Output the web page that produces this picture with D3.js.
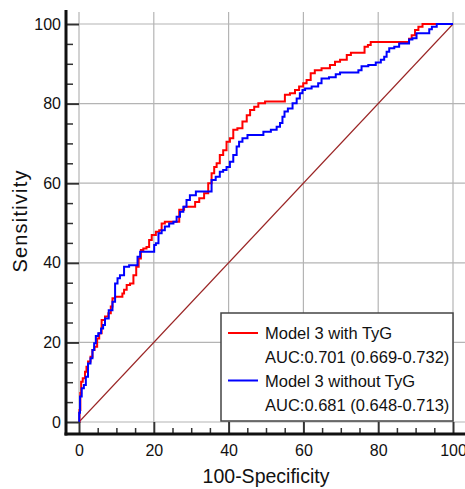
<!DOCTYPE html>
<html>
<head>
  <style>
    body { margin: 0; background: #fff; }
    svg { font-family: "Liberation Sans", Arial, sans-serif; }
    .grid line { stroke: #b4b4b4; stroke-width: 1.2px; }
    .axis text { font-size: 16px; fill: #111; }
    .axis .tick line { stroke: #333; }
    .curve { fill: none; stroke-width: 2px; stroke-linejoin: miter; }
    .legend text { font-size: 16.5px; fill: #111; }
  </style>
</head>
<body>
  <svg id="roc" width="465" height="489"></svg>

  <script src="https://d3js.org/d3.v7.min.js"></script>
  <script>
    // ROC points: [100-Specificity, Sensitivity]
    const withTyG = [
      [0,0],[0.27,3],[0.45,7.3],[0.7,10.1],[1.3,11],[1.9,12.6],[2.1,13.9],[2.75,15.2],[3.4,16.4],[3.8,18.1],
      [4.5,18.9],[5.2,21],[5.6,22.3],[6.5,25.6],[7.4,26.5],[8.3,27.3],[8.7,29],[9.2,31.1],[10.1,31.5],[11.4,31.5],
      [11.8,32.3],[12.3,33.2],[13.2,34.4],[14.1,34.8],[15.0,36.9],[15.6,39],[16.3,41.1],[16.8,43.2],[17.6,43.6],[18.5,44],
      [19,45.7],[19.9,47],[21.2,47.8],[21.7,48.2],[22.5,49.9],[23.4,50.3],[25.7,50.3],[27.9,53.3],[28.3,54.1],[30.6,54.1],
      [31.5,55.3],[32.8,56.2],[34.1,57.5],[35,60],[35.9,62.5],[36.4,64.1],[37.2,65],[38.1,67.1],[39,68.3],[39.9,70.4],
      [40.8,71.3],[41.7,73.4],[43,73.8],[44.4,75.5],[45.3,77.1],[46.2,78.4],[47.5,79.2],[48.4,80.1],[51.1,80.5],[54.6,80.5],
      [55.5,82.2],[57.3,82.6],[58.2,83.4],[59.5,84.3],[60.4,85.1],[61.3,85.9],[62.6,87.6],[63.5,88.4],[66.2,88.9],[68,89.7],
      [68.9,90.5],[70.7,91],[72.5,92.2],[72.9,92.8],[76,92.8],[76.7,94.3],[77.8,94.7],[78.2,95.5],[88,95.5],[88.5,96.3],
      [89.4,97.2],[90.3,98.5],[91.2,99.3],[92.5,100],[100,100]
    ];
    const withoutTyG = [
      [0,0],[0.1,2.3],[0.45,6.4],[1,8.5],[1.6,9.3],[2.06,11.4],[2.75,14.7],[3.4,16],[3.8,18.1],[4.3,19.8],
      [4.7,21.6],[5.6,22.3],[6.2,23.5],[6.7,24.4],[7.2,26],[8.7,28.1],[9.2,30.2],[10.1,34.8],[10.5,36.1],[11.4,36.9],
      [12.7,39],[14.1,39.4],[15.4,39.4],[15.9,41.5],[16.8,42.8],[19.9,42.8],[20.3,44.5],[20.8,44.9],[21.7,47.4],[22.5,48.2],
      [23.4,49.1],[24.8,49.9],[25.7,50.3],[26.5,51.6],[27.5,52.8],[28.3,54.1],[29.2,55.8],[30.1,57],[32.4,57.9],[35,57.9],
      [35.9,60.8],[37.2,61.6],[38.1,62.9],[39,63.3],[39.9,64.1],[40.8,65.4],[41.7,67.1],[42.6,69.2],[43,70.4],[44.4,71.3],
      [45.7,72.1],[48.4,72.1],[50.2,72.9],[52.4,73.4],[53.3,74.2],[54.2,75.1],[54.6,76.7],[55.3,78],[56.4,78.8],[57.8,80.1],
      [58.6,81.3],[59.5,82.6],[60,83.4],[60.9,83.8],[63.5,84.3],[64.4,85.1],[65.3,86.3],[68.4,86.6],[68.9,87.4],[70.7,87.8],
      [74.3,87.8],[75.1,88.4],[76,89.4],[78.7,89.7],[80,90.3],[81.4,91],[81.8,91.8],[82.7,93],[83.2,93.9],[85.4,94.3],
      [85.8,95.1],[88,95.1],[88.5,96.1],[89.8,96.4],[90.7,97.7],[93.4,97.7],[93.9,98.7],[94.8,99.3],[96.5,100],[100,100]
    ];
    const reference = [[0,0],[100,100]];

    const majorTicks = [0, 20, 40, 60, 80, 100];
    const minorTicks = [5, 10, 15, 25, 30, 35, 45, 50, 55, 65, 70, 75, 85, 90, 95];

    const legendItems = [
      { name: "Model 3 with TyG", auc: "AUC:0.701 (0.669-0.732)", color: "#ff0000" },
      { name: "Model 3 without TyG", auc: "AUC:0.681 (0.648-0.713)", color: "#0000ff" }
    ];

    const svg = d3.select("#roc");

    const x = d3.scaleLinear().domain([0, 100]).range([79, 453]);
    const y = d3.scaleLinear().domain([0, 100]).range([422, 24]);

    const xAxisY = 434, yAxisX = 66;

    // grid
    const grid = svg.append("g").attr("class", "grid");
    grid.selectAll(".gx")
        .data(majorTicks)
        .enter()
        .append("line")
        .attr("x1", d => x(d)).attr("x2", d => x(d))
        .attr("y1", y(103)).attr("y2", y(0));
    grid.selectAll(".gy")
        .data(majorTicks)
        .enter()
        .append("line")
        .attr("y1", d => y(d)).attr("y2", d => y(d))
        .attr("x1", x(0)).attr("x2", x(103.2));

    // diagonal reference line
    const line = d3.line().x(d => x(d[0])).y(d => y(d[1]));
    svg.append("path")
       .attr("d", line(reference))
       .attr("fill", "none")
       .attr("stroke", "#9a2424")
       .attr("stroke-width", 1.1);

    // ROC curves
    const stepLine = d3.line().x(d => x(d[0])).y(d => y(d[1])).curve(d3.curveStep);
    svg.append("path")
       .attr("class", "curve")
       .attr("stroke", "#ff0000")
       .attr("d", stepLine(withTyG));
    svg.append("path")
       .attr("class", "curve")
       .attr("stroke", "#0000ff")
       .attr("d", stepLine(withoutTyG));

    // axes
    const yAxis = svg.append("g")
       .attr("class", "axis")
       .attr("transform", `translate(${yAxisX},0)`)
       .call(d3.axisLeft(y).tickValues(majorTicks).tickSize(-(x(0) - yAxisX)).tickPadding(5));
    yAxis.select(".domain").remove();
    yAxis.selectAll(".tick line").attr("stroke-width", 2);

    const yMinor = svg.append("g")
       .attr("class", "axis")
       .attr("transform", `translate(${yAxisX},0)`)
       .call(d3.axisLeft(y).tickValues(minorTicks).tickSize(-7).tickFormat(""));
    yMinor.select(".domain").remove();
    yMinor.selectAll(".tick line").attr("stroke-width", 1.5);

    const xAxis = svg.append("g")
       .attr("class", "axis")
       .attr("transform", `translate(0,${xAxisY})`)
       .call(d3.axisBottom(x).tickValues(majorTicks).tickSize(-(xAxisY - y(0))).tickPadding(11));
    xAxis.select(".domain").remove();
    xAxis.selectAll(".tick line").attr("stroke-width", 2);

    const xMinor = svg.append("g")
       .attr("class", "axis")
       .attr("transform", `translate(0,${xAxisY})`)
       .call(d3.axisBottom(x).tickValues(minorTicks).tickSize(-6).tickFormat(""));
    xMinor.select(".domain").remove();
    xMinor.selectAll(".tick line").attr("stroke-width", 1.5);

    // axis lines
    svg.append("line")
       .attr("x1", yAxisX).attr("x2", yAxisX)
       .attr("y1", 10).attr("y2", xAxisY + 1.5)
       .attr("stroke", "#111").attr("stroke-width", 3);
    svg.append("line")
       .attr("x1", yAxisX - 1.5).attr("x2", 465)
       .attr("y1", xAxisY).attr("y2", xAxisY)
       .attr("stroke", "#111").attr("stroke-width", 3);

    // axis titles
    svg.append("text")
       .attr("x", (x(0) + x(100)) / 2)
       .attr("y", 483)
       .attr("text-anchor", "middle")
       .style("font-size", "19.5px")
       .style("fill", "#111")
       .text("100-Specificity");

    svg.append("text")
       .attr("transform", `translate(27,${(y(0) + y(100)) / 2 - 2}) rotate(-90)`)
       .attr("text-anchor", "middle")
       .style("font-size", "20px")
       .style("letter-spacing", "1.2px")
       .style("fill", "#111")
       .text("Sensitivity");

    // legend
    const legend = svg.append("g").attr("class", "legend");
    legend.append("rect")
          .attr("x", 221).attr("y", 313)
          .attr("width", 232).attr("height", 108)
          .attr("fill", "#fff")
          .attr("stroke", "#444")
          .attr("stroke-width", 1.5);

    const item = legend.selectAll(".item")
          .data(legendItems)
          .enter()
          .append("g")
          .attr("transform", (d, i) => `translate(0,${i * 47.5})`);

    item.append("line")
        .attr("x1", 228).attr("x2", 258)
        .attr("y1", 333).attr("y2", 333)
        .attr("stroke", d => d.color)
        .attr("stroke-width", 2);
    item.append("text")
        .attr("x", 265).attr("y", 339)
        .text(d => d.name);
    item.append("text")
        .attr("x", 265).attr("y", 363)
        .text(d => d.auc);
  </script>
</body>
</html>
